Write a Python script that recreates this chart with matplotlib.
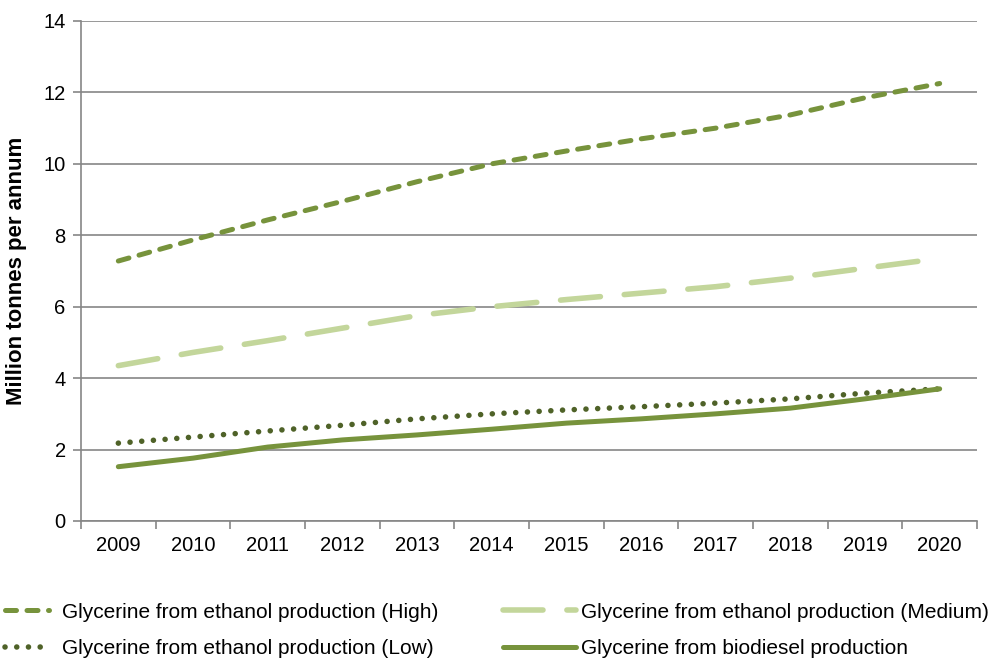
import matplotlib.pyplot as plt
import numpy as np

plt.rcParams['font.family'] = ['Liberation Sans', 'DejaVu Sans']

# Dados
anos = ['2009', '2010', '2011', '2012', '2013', '2014',
        '2015', '2016', '2017', '2018', '2019', '2020']
etanol_high = [7.28, 7.87, 8.43, 8.95, 9.5, 10.0, 10.36, 10.7, 11.0, 11.37, 11.85, 12.25]
etanol_medium = [4.35, 4.72, 5.05, 5.4, 5.75, 6.0, 6.2, 6.38, 6.56, 6.8, 7.08, 7.35]
etanol_low = [2.18, 2.35, 2.52, 2.68, 2.86, 3.0, 3.11, 3.2, 3.3, 3.42, 3.58, 3.7]
biodiesel = [1.52, 1.76, 2.07, 2.27, 2.41, 2.57, 2.74, 2.86, 3.0, 3.16, 3.42, 3.7]

verde = '#77933C'
verde_claro = '#C3D69B'
verde_escuro = '#4F6228'
cinza = '#868686'

fig = plt.figure(figsize=(9.97, 6.63), dpi=100)
ax = fig.add_axes([81/997, 142/663, 896/997, 500/663])

x = np.arange(len(anos))

l_high, = ax.plot(x, etanol_high, color=verde, lw=3.6,
                  linestyle=(0, (2.2, 2.1)), dash_capstyle='round',
                  label='Glycerine from ethanol production (High)')
l_med, = ax.plot(x, etanol_medium, color=verde_claro, lw=4.0,
                 linestyle=(0, (7.2, 4.3)), dash_capstyle='round',
                 label='Glycerine from ethanol production (Medium)')
l_low, = ax.plot(x, etanol_low, color=verde_escuro, lw=4.0,
                 linestyle=(0, (0.01, 2.1)), dash_capstyle='round',
                 label='Glycerine from ethanol production (Low)')
l_bio, = ax.plot(x, biodiesel, color=verde, lw=3.6, solid_capstyle='round',
                 label='Glycerine from biodiesel production')

ax.set_xlim(-0.5, len(anos) - 0.5)
ax.set_ylim(0, 14)
ax.set_yticks(range(0, 15, 2))
ax.set_xticks(x)
ax.set_xticklabels(anos)
ax.set_xticks(np.arange(-0.5, len(anos), 1), minor=True)

ax.grid(True, axis='y', color=cinza, lw=1.2)
ax.set_axisbelow(True)
for lado in ['top', 'right']:
    ax.spines[lado].set_visible(False)
for lado in ['left', 'bottom']:
    ax.spines[lado].set_color(cinza)
    ax.spines[lado].set_linewidth(1.2)

ax.tick_params(axis='x', which='major', length=0, pad=11, labelsize=14.5)
ax.tick_params(axis='x', which='minor', length=6, width=1.2, color=cinza, direction='out')
ax.tick_params(axis='y', length=6, width=1.2, color=cinza, labelsize=14.5, pad=5)

ax.set_ylabel('Million tonnes per annum', fontsize=16, fontweight='bold', labelpad=12)

# Legenda em duas colunas independentes (comprimentos de amostra diferentes)
leg1 = fig.legend(handles=[l_high, l_low], frameon=False,
                  loc='center left', bbox_to_anchor=(5/997, 0.049),
                  fontsize=15, handlelength=2.1, handletextpad=0.65,
                  labelspacing=0.85, borderpad=0, borderaxespad=0)
leg2 = fig.legend(handles=[l_med, l_bio], frameon=False,
                  loc='center left', bbox_to_anchor=(503/997, 0.049),
                  fontsize=15, handlelength=3.5, handletextpad=0.25,
                  labelspacing=0.85, borderpad=0, borderaxespad=0)

plt.savefig('out.png', dpi=100)
